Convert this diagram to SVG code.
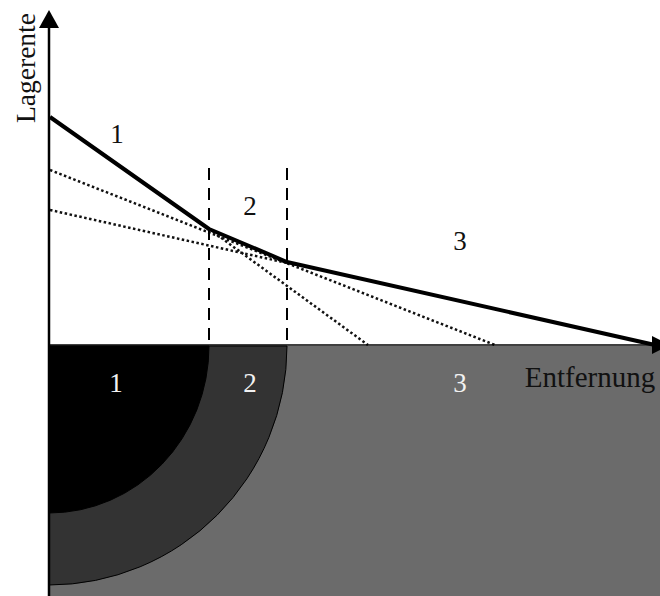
<svg xmlns="http://www.w3.org/2000/svg" width="660" height="596" viewBox="0 0 660 596">
<style>
.lbl{font-family:"Liberation Serif","Times New Roman",serif;font-size:27px;text-anchor:middle}
.dark{fill:#111}
.light{fill:#f2f2f2}
.dot{fill:none;stroke:#111;stroke-width:2.5;stroke-dasharray:2.5 2.5}
.dash{fill:none;stroke:#000;stroke-width:2;stroke-dasharray:12 8}
</style>
<rect width="660" height="596" fill="#fff"/>
<g id="zone3-area"><rect x="49" y="346" width="611" height="250" fill="#6b6b6b"/></g>
<g id="zone2-area"><path d="M49,346 L287,346 A238,239 0 0 1 49,585 Z" fill="#333" stroke="#000" stroke-width="1"/></g>
<g id="zone1-area"><path d="M49,346 L209,346 A160,167 0 0 1 49,513 Z" fill="#000" stroke="#000" stroke-width="1"/></g>
<g id="connectors">
<line class="dot" x1="50" y1="170" x2="495" y2="345"/>
<line class="dot" x1="50" y1="210" x2="287" y2="263"/>
<line class="dot" x1="209" y1="229" x2="368" y2="345"/>
<line class="dash" x1="209" y1="168" x2="209" y2="345"/>
<line class="dash" x1="287" y1="168" x2="287" y2="345"/>
<polyline points="50,117 209,229 287,262 655,345" fill="none" stroke="#000" stroke-width="4" stroke-linejoin="round"/>
<line x1="49" y1="26" x2="49" y2="596" stroke="#000" stroke-width="2.5"/>
<line x1="49" y1="345" x2="654" y2="345" stroke="#000" stroke-width="1.5"/>
<polygon points="49,10 39,28 59,28" fill="#000"/>
<polygon points="652,336 652,354 670,345" fill="#000"/>
</g>
<g id="axis-labels">
<text class="lbl dark" transform="translate(35,68) rotate(-90)" style="font-size:27.5px">Lagerente</text>
<text class="lbl dark" x="590" y="387" style="font-size:29px">Entfernung</text>
</g>
<g id="labels-top">
<text class="lbl dark" x="117" y="143">1</text>
<text class="lbl dark" x="250" y="215">2</text>
<text class="lbl dark" x="460" y="250">3</text>
</g>
<g id="labels-bottom">
<text class="lbl light" x="116" y="392">1</text>
<text class="lbl light" x="250" y="392">2</text>
<text class="lbl light" x="460" y="392">3</text>
</g>
</svg>
